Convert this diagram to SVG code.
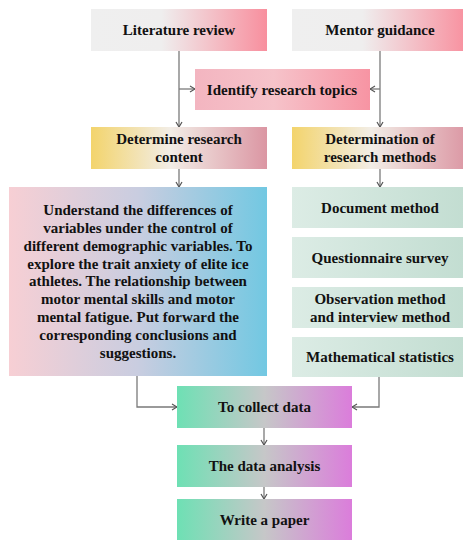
<svg xmlns="http://www.w3.org/2000/svg" width="463" height="540" viewBox="0 0 463 540">
  <defs>
    <linearGradient id="gTop" x1="0" y1="0" x2="1" y2="0">
      <stop offset="0" stop-color="#efefef"/>
      <stop offset="0.4" stop-color="#efeeee"/>
      <stop offset="1" stop-color="#f88f9e"/>
    </linearGradient>
    <linearGradient id="gTopic" x1="0" y1="0" x2="1" y2="0">
      <stop offset="0" stop-color="#f3b5c0"/>
      <stop offset="0.45" stop-color="#f6c3ca"/>
      <stop offset="1" stop-color="#f794a3"/>
    </linearGradient>
    <linearGradient id="gDet" x1="0" y1="0" x2="1" y2="0">
      <stop offset="0" stop-color="#f3d46c"/>
      <stop offset="0.45" stop-color="#f2ede6"/>
      <stop offset="1" stop-color="#db96a3"/>
    </linearGradient>
    <linearGradient id="gBig" x1="0" y1="0" x2="1" y2="0">
      <stop offset="0" stop-color="#f7cfd4"/>
      <stop offset="0.5" stop-color="#c9cde0"/>
      <stop offset="1" stop-color="#72c8e2"/>
    </linearGradient>
    <linearGradient id="gMeth" x1="0" y1="0" x2="1" y2="0">
      <stop offset="0" stop-color="#dcece5"/>
      <stop offset="1" stop-color="#c2ddd1"/>
    </linearGradient>
    <linearGradient id="gData" x1="0" y1="0" x2="1" y2="0">
      <stop offset="0" stop-color="#6ee0b4"/>
      <stop offset="0.5" stop-color="#c6c7c8"/>
      <stop offset="1" stop-color="#db7ddb"/>
    </linearGradient>
    <marker id="chev" viewBox="0 0 8 8" refX="7" refY="4" markerWidth="8" markerHeight="8" markerUnits="userSpaceOnUse" orient="auto">
      <path d="M2,1 L7,4 L2,7" fill="none" stroke="#555" stroke-width="1.2"/>
    </marker>
  </defs>
  <style>
    text { font-family: "Liberation Serif", "Times New Roman", serif; font-weight: bold; font-size: 15px; fill: #111; text-anchor: middle; }
    .link { fill: none; stroke: #7a7a7a; stroke-width: 1.3; marker-end: url(#chev); }
  </style>

  <rect width="463" height="540" fill="#ffffff"/>

  <!-- connectors -->
  <g id="connectors">
    <path class="link" d="M179,51 V127"/>
    <path class="link" d="M380,51 V127"/>
    <path class="link" d="M179,89 H195"/>
    <path class="link" d="M380,89 H370"/>
    <path class="link" d="M179,169 V187"/>
    <path class="link" d="M380,169 V187"/>
    <path class="link" d="M137,376 V407 H177"/>
    <path class="link" d="M379,377 V407 H352"/>
    <path class="link" d="M264,428 V445"/>
    <path class="link" d="M264,487 V499"/>
  </g>

  <g id="literature-review">
    <rect x="91" y="9" width="176" height="42" fill="url(#gTop)"/>
    <text x="179" y="35">Literature review</text>
  </g>
  <g id="mentor-guidance">
    <rect x="292" y="9" width="176" height="42" fill="url(#gTop)"/>
    <text x="380" y="35">Mentor guidance</text>
  </g>
  <g id="identify-topics">
    <rect x="195" y="69" width="175" height="41" fill="url(#gTopic)"/>
    <text x="282" y="94.5">Identify research topics</text>
  </g>
  <g id="research-content">
    <rect x="91" y="127" width="176" height="42" fill="url(#gDet)"/>
    <text x="179" y="144">Determine research</text>
    <text x="179" y="162">content</text>
  </g>
  <g id="research-methods">
    <rect x="292" y="127" width="176" height="42" fill="url(#gDet)"/>
    <text x="380" y="144">Determination of</text>
    <text x="380" y="162">research methods</text>
  </g>
  <g id="content-detail">
    <rect x="9" y="187" width="258" height="189" fill="url(#gBig)"/>
    <text x="138" y="215">Understand the differences of</text>
    <text x="138" y="233">variables under the control of</text>
    <text x="138" y="250.5">different demographic variables. To</text>
    <text x="138" y="268.5">explore the trait anxiety of elite ice</text>
    <text x="138" y="286">athletes. The relationship between</text>
    <text x="138" y="304">motor mental skills and motor</text>
    <text x="138" y="322">mental fatigue. Put forward the</text>
    <text x="138" y="340">corresponding conclusions and</text>
    <text x="138" y="358">suggestions.</text>
  </g>
  <g id="document-method">
    <rect x="292" y="187" width="176" height="41" fill="url(#gMeth)"/>
    <text x="380" y="213">Document method</text>
  </g>
  <g id="questionnaire">
    <rect x="292" y="237" width="176" height="41" fill="url(#gMeth)"/>
    <text x="380" y="263">Questionnaire survey</text>
  </g>
  <g id="observation">
    <rect x="292" y="287" width="176" height="41" fill="url(#gMeth)"/>
    <text x="380" y="304">Observation method</text>
    <text x="380" y="322">and interview method</text>
  </g>
  <g id="statistics">
    <rect x="292" y="337" width="176" height="40" fill="url(#gMeth)"/>
    <text x="380" y="362">Mathematical statistics</text>
  </g>
  <g id="collect-data">
    <rect x="177" y="386" width="175" height="42" fill="url(#gData)"/>
    <text x="264.5" y="412">To collect data</text>
  </g>
  <g id="data-analysis">
    <rect x="177" y="445" width="175" height="42" fill="url(#gData)"/>
    <text x="264.5" y="471">The data analysis</text>
  </g>
  <g id="write-paper">
    <rect x="177" y="499" width="175" height="41" fill="url(#gData)"/>
    <text x="264.5" y="525">Write a paper</text>
  </g>
</svg>
